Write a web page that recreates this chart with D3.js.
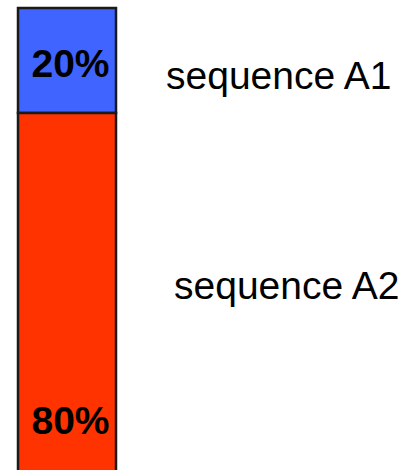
<!DOCTYPE html>
<html>
<head>
<meta charset="utf-8">
<script src="https://cdn.jsdelivr.net/npm/d3@7"></script>
<style>
  html, body { margin: 0; padding: 0; background: #fff; }
  svg { display: block; }
</style>
</head>
<body>
<div id="chart"></div>
<script>
// ---- data ----
const categories = ["sequence A1", "sequence A2"];
const values = [20, 80];
const valueLabels = ["20%", "80%"];
const colors = ["#4064FF", "#FF3300"];

// ---- layout ----
const W = 405, H = 470;
const svg = d3.select("#chart").append("svg")
  .attr("width", W).attr("height", H);

const y = d3.scaleLinear().domain([0, 100]).range([8, 533]);
const x = d3.scaleBand().domain(["bar"]).range([18, 116]);

let cum = 0;
const segs = values.map((v, i) => {
  const s = { cat: categories[i], label: valueLabels[i], v, y0: cum, y1: cum + v, color: colors[i] };
  cum += v;
  return s;
});

svg.append("defs").append("clipPath").attr("id", "clip")
  .append("rect").attr("x", 0).attr("y", 0).attr("width", W).attr("height", H);

const g = svg.append("g").attr("clip-path", "url(#clip)");

g.selectAll("rect.seg").data(segs).enter().append("rect")
  .attr("class", "seg")
  .attr("x", x("bar"))
  .attr("width", x.bandwidth())
  .attr("y", d => y(d.y0))
  .attr("height", d => y(d.y1) - y(d.y0))
  .attr("fill", d => d.color)
  .attr("stroke", "#1a1a1a")
  .attr("stroke-width", 2.5);

// value labels near bottom of visible part of each segment
g.selectAll("text.val").data(segs).enter().append("text")
  .attr("class", "val")
  .attr("x", x("bar") + x.bandwidth() / 2 + 3.5)
  .attr("y", d => Math.min(y(d.y1), H) - 36)
  .attr("text-anchor", "middle")
  .attr("font-family", "'Liberation Sans', Arial, sans-serif")
  .attr("font-weight", "bold")
  .attr("font-size", 39)
  .attr("fill", "#000")
  .text(d => d.label);

// series labels
const legendAt = [10, 50];
const legendX = [166, 174];
svg.selectAll("text.cat").data(segs).enter().append("text")
  .attr("class", "cat")
  .attr("x", (d, i) => legendX[i])
  .attr("y", (d, i) => y(legendAt[i]) + 28)
  .attr("font-family", "'Liberation Sans', Arial, sans-serif")
  .attr("font-size", 39)
  .attr("fill", "#000")
  .text(d => d.cat);
</script>
</body>
</html>
